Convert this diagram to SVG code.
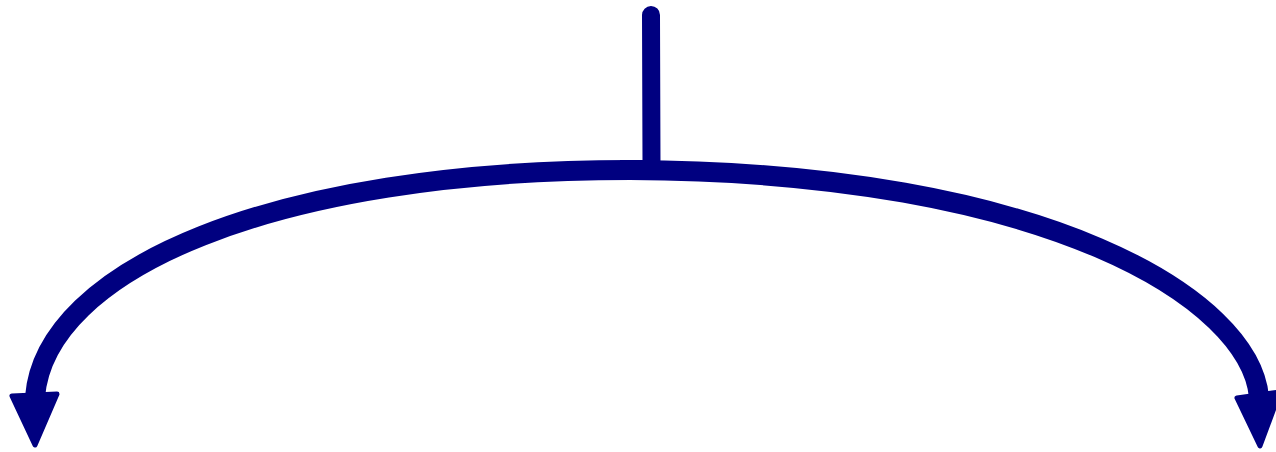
<svg xmlns="http://www.w3.org/2000/svg" width="1276" height="452" viewBox="0 0 1276 452">
<style>
.line{fill:none;stroke:#000080;stroke-width:20;stroke-linecap:butt}
.stem{fill:none;stroke:#000080;stroke-width:18;stroke-linecap:round}
.head{fill:#000080;stroke:#000080;stroke-width:5;stroke-linejoin:round}
</style>
<rect width="1276" height="452" fill="#ffffff"/>
<g id="connectors">
<path class="stem" d="M 651 15 L 651.5 165"/>
<path class="line" d="M 645 170 L 630 170 C 272 170, 45 270, 35 397"/>
<path class="line" d="M 620 170 L 630 170 C 1050 172, 1250 300, 1259 397"/>
<polygon class="head" points="12,396 57,394 35,445"/>
<polygon class="head" points="1237,398 1280,392 1260,446"/>
</g>
</svg>
